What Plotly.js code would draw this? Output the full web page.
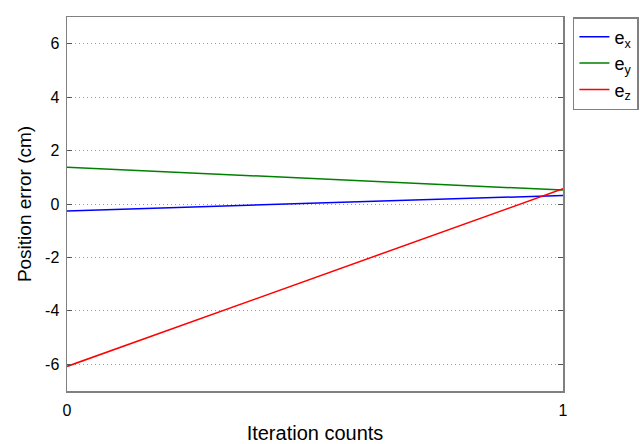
<!DOCTYPE html>
<html><head><meta charset="utf-8">
<script src="https://cdn.plot.ly/plotly-3.0.1.min.js"></script>
<style>body{margin:0;background:#fff}#c{width:640px;height:444px}</style>
</head><body><div id="c"></div>
<script>
const iterations = [0, 1];
const ex = [-0.26, 0.32];
const ey = [1.38, 0.52];
const ez = [-6.08, 0.57];
const names = ['e<sub>x</sub>', 'e<sub>y</sub>', 'e<sub>z</sub>'];
const yTicks = [-6, -4, -2, 0, 2, 4, 6];
const yTickText = ['-6', '-4', '-2', '0', '2', '4', '6'];
const xTicks = [0, 1];
const xTickText = ['0', '1'];
const colors = ['#0000ff', '#008000', '#ff0000'];
const series = [ex, ey, ez];
const traces = series.map((s, i) => ({
  x: iterations, y: s, type: 'scatter', mode: 'lines', name: names[i],
  line: {color: colors[i], width: 1.5}
}));
const axisCommon = {
  showline: true, linecolor: '#808080', linewidth: 1.5, mirror: 'ticks',
  ticks: 'inside', ticklen: 5, tickcolor: '#555', zeroline: false,
  tickfont: {family: 'Liberation Sans, Arial, sans-serif', size: 16, color: '#000'}
};
const layout = {
  width: 640, height: 444,
  margin: {l: 67, r: 77, t: 17, b: 53, autoexpand: false},
  paper_bgcolor: '#fff', plot_bgcolor: '#fff',
  font: {family: 'Liberation Sans, Arial, sans-serif', color: '#000'},
  xaxis: Object.assign({}, axisCommon, {
    range: [0, 1], tickvals: xTicks, ticktext: xTickText, showgrid: false,
    ticklabelstandoff: 4,
    title: {text: 'Iteration counts', font: {size: 20}, standoff: 11}
  }),
  yaxis: Object.assign({}, axisCommon, {
    range: [-7, 7], tickvals: yTicks, ticktext: yTickText,
    ticklabelstandoff: 3,
    showgrid: true, gridcolor: '#999', griddash: '1px,3px', gridwidth: 1,
    title: {text: 'Position error (cm)', font: {size: 19}, standoff: 8}
  }),
  legend: {
    x: 1.02, y: 1, xanchor: 'left', yanchor: 'top',
    bordercolor: '#808080', borderwidth: 1.5, bgcolor: '#fff',
    font: {size: 18}, tracegroupgap: 0, itemwidth: 30
  },
  showlegend: true
};
Plotly.newPlot('c', traces, layout, {staticPlot: true, displayModeBar: false});
</script></body></html>
